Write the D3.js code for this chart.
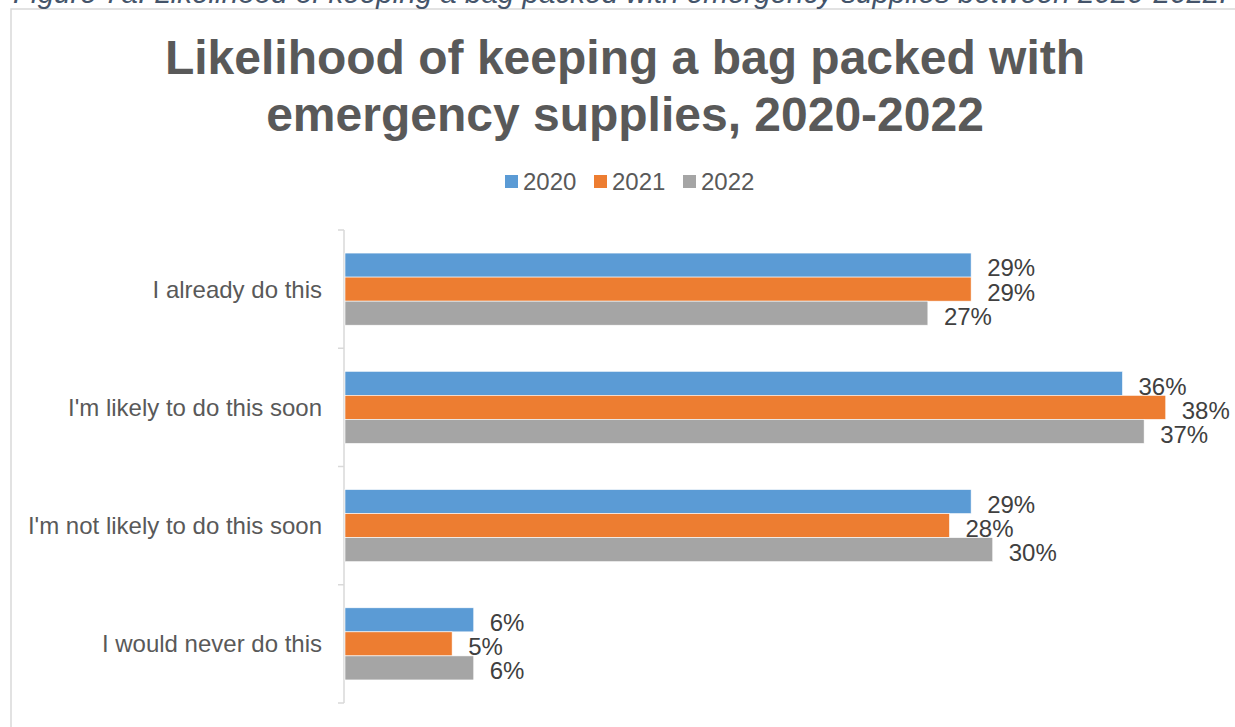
<!DOCTYPE html>
<html>
<head>
<meta charset="utf-8">
<script src="https://cdn.jsdelivr.net/npm/d3@7"></script>
<style>
  html, body { margin: 0; padding: 0; background: #fff; }
  svg { display: block; font-family: "Liberation Sans", Arial, sans-serif; }
</style>
</head>
<body>
<svg id="chart" width="1235" height="727"></svg>
<script>
// Survey responses by year
const categories = [
  "I already do this",
  "I'm likely to do this soon",
  "I'm not likely to do this soon",
  "I would never do this"
];
const years = ["2020", "2021", "2022"];
const values2020 = [29, 36, 29, 6];
const values2021 = [29, 38, 28, 5];
const values2022 = [27, 37, 30, 6];
const seriesColors = ["#5b9bd5", "#ed7d31", "#a5a5a5"];
const xDomain = [0, 40];

const seriesValues = [values2020, values2021, values2022];
const rows = categories.map((c, i) => ({
  category: c,
  bars: years.map((y, j) => ({ year: y, value: seriesValues[j][i], color: seriesColors[j] }))
}));

const svg = d3.select("#chart");

// Outer chart frame
svg.append("rect")
  .attr("x", 11).attr("y", 9)
  .attr("width", 1240).attr("height", 740)
  .attr("fill", "none")
  .attr("stroke", "#d9d9d9")
  .attr("stroke-width", 1.5);

// Figure caption above the frame, fitted to the page width
const caption = svg.append("text")
  .attr("x", 13).attr("y", 3)
  .attr("font-size", 28)
  .attr("font-style", "italic")
  .attr("fill", "#44546a")
  .text("Figure 7a: Likelihood of keeping a bag packed with emergency supplies between 2020-2022.");
const capLen = caption.node().getComputedTextLength();
caption.attr("font-size", 28 * 1215 / capLen);

// Title
const title = svg.append("text")
  .attr("text-anchor", "middle")
  .attr("font-size", 48)
  .attr("font-weight", "bold")
  .attr("fill", "#595959");
title.append("tspan").attr("x", 625).attr("y", 74).text("Likelihood of keeping a bag packed with");
title.append("tspan").attr("x", 625).attr("y", 131).text("emergency supplies, 2020-2022");

// Legend
const legend = svg.append("g").attr("transform", "translate(505,181)");
const legendX = d3.scaleOrdinal().domain(years).range([0, 89, 178]);
const li = legend.selectAll("g").data(years).join("g")
  .attr("transform", d => `translate(${legendX(d)},0)`);
li.append("rect")
  .attr("x", 0).attr("y", -6)
  .attr("width", 13).attr("height", 13)
  .attr("fill", (d, i) => seriesColors[i]);
li.append("text")
  .attr("x", 18).attr("y", 9)
  .attr("font-size", 24)
  .attr("fill", "#595959")
  .text(d => d);

// Scales
const x = d3.scaleLinear().domain(xDomain).range([344, 1209]);
const y0 = d3.scaleBand().domain(categories).range([230, 703])
  .paddingInner(0.39).paddingOuter(0.195);
const y1 = d3.scaleBand().domain(years).range([0, y0.bandwidth()]);

// Category axis with outward ticks at band boundaries
const axisColor = "#d9d9d9";
const step = y0.step();
const boundaries = d3.range(categories.length + 1).map(i => 230 + i * step);
svg.append("line")
  .attr("x1", x(0)).attr("x2", x(0))
  .attr("y1", boundaries[0]).attr("y2", boundaries[boundaries.length - 1])
  .attr("stroke", axisColor).attr("stroke-width", 1.5);
svg.selectAll("line.tick").data(boundaries).join("line")
  .attr("class", "tick")
  .attr("x1", x(0) - 6).attr("x2", x(0))
  .attr("y1", d => d).attr("y2", d => d)
  .attr("stroke", axisColor).attr("stroke-width", 1.5);

// Category labels
svg.selectAll("text.cat").data(categories).join("text")
  .attr("class", "cat")
  .attr("x", 322)
  .attr("y", d => y0(d) + y0.bandwidth() / 2)
  .attr("dy", "0.35em")
  .attr("text-anchor", "end")
  .attr("font-size", 24)
  .attr("fill", "#595959")
  .text(d => d);

// Bars
const groups = svg.selectAll("g.cat").data(rows).join("g")
  .attr("class", "cat")
  .attr("transform", d => `translate(0,${y0(d.category)})`);

groups.selectAll("rect").data(d => d.bars).join("rect")
  .attr("x", x(0) + 1)
  .attr("y", d => y1(d.year))
  .attr("width", d => x(d.value) - x(0) - 1)
  .attr("height", y1.bandwidth())
  .attr("fill", d => d.color)
  .attr("stroke", "#ffffff")
  .attr("stroke-width", 0.6);

// Value labels
groups.selectAll("text").data(d => d.bars).join("text")
  .attr("x", d => x(d.value) + 16)
  .attr("y", d => y1(d.year) + y1.bandwidth() / 2 + 3)
  .attr("dy", "0.35em")
  .attr("font-size", 24)
  .attr("fill", "#404040")
  .text(d => d.value + "%");
</script>
</body>
</html>
